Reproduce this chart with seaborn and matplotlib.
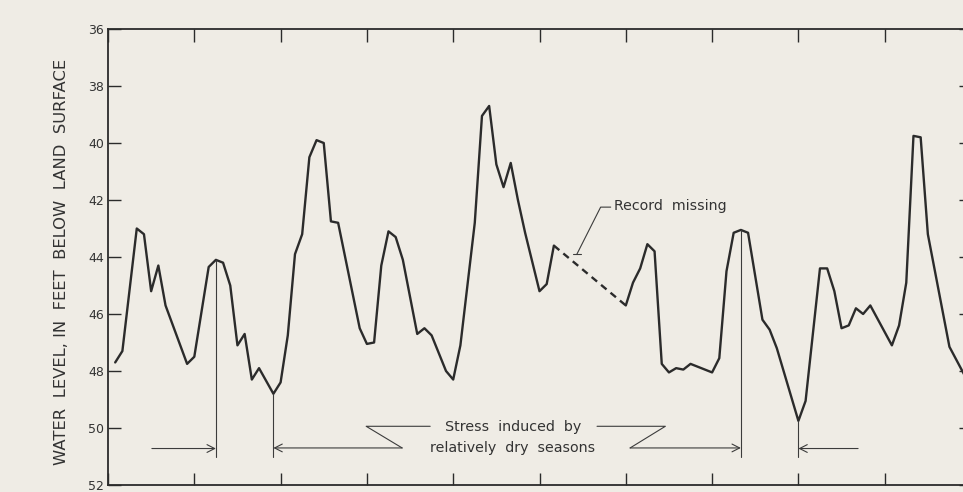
import matplotlib
matplotlib.use("Agg")
import matplotlib.pyplot as plt
import pandas as pd
import seaborn as sns

# monthly record, month 0 = left edge of chart
months = [1, 2, 4, 5, 6, 7, 8, 11, 12, 14, 15, 16, 17, 18, 19, 20, 21, 23, 24,
          25, 26, 27, 28, 29, 30, 31, 32, 35, 36, 37, 38, 39, 40, 41, 43, 44,
          45, 47, 48, 49, 51, 52, 53, 54, 55, 56, 57, 58, 60, 61, 62,
          72, 73, 74, 75, 76, 77, 78, 79, 80, 81, 84, 85, 86, 87, 88, 89,
          91, 92, 93, 96, 97, 99, 100, 101, 102, 103, 104, 105, 106, 109,
          110, 111, 112, 113, 114, 117, 119, 120]
levels = [47.7, 47.3, 43.0, 43.2, 45.2, 44.3, 45.7, 47.75, 47.5, 44.35, 44.1,
          44.2, 45.0, 47.1, 46.7, 48.3, 47.9, 48.8, 48.4,
          46.75, 43.9, 43.2, 40.5, 39.9, 40.0, 42.75, 42.8, 46.5, 47.05, 47.0,
          44.3, 43.1, 43.3, 44.1, 46.7, 46.5,
          46.75, 48.0, 48.3, 47.1, 42.8, 39.05, 38.7, 40.75, 41.55, 40.7, 42.0,
          43.15, 45.2, 44.95, 43.6,
          45.7, 44.9, 44.4, 43.55, 43.8, 47.75, 48.05, 47.9, 47.95, 47.75,
          48.05, 47.55, 44.5, 43.15, 43.05, 43.15,
          46.2, 46.55, 47.2, 49.75, 49.05, 44.4, 44.4, 45.2, 46.5, 46.4, 45.8,
          46.0, 45.7, 47.1,
          46.4, 44.9, 39.75, 39.8, 43.2, 47.15, 48.1, 48.6]

gap_start, gap_end = 62, 72          # record missing between these months
stress_marks = [15, 23, 88, 96]      # months marked with vertical lines
y_ticks = [36, 38, 40, 42, 44, 46, 48, 50, 52]

INK = "#2b2b2b"
THIN = "#3c3c3c"
PAPER = "#efece5"

df = pd.DataFrame({"month": months, "level": levels})
before = df[df["month"] <= gap_start]
after = df[df["month"] >= gap_end]
gap = df[df["month"].isin([gap_start, gap_end])]

sns.set_style("ticks")
plt.rcParams["font.family"] = ["DejaVu Sans"]

fig = plt.figure(figsize=(9.63, 4.92), dpi=100, facecolor=PAPER)
ax = fig.add_axes([108 / 963, 7 / 492, 863 / 963, 456 / 492])
ax.set_facecolor(PAPER)

sns.lineplot(data=before, x="month", y="level", color=INK, lw=1.7, ax=ax)
sns.lineplot(data=after, x="month", y="level", color=INK, lw=1.7, ax=ax)
sns.lineplot(data=gap, x="month", y="level", color=INK, lw=1.7, ax=ax,
             linestyle=(0, (3, 2.2)))

ax.set_xlim(0, 120)
ax.set_ylim(52, 36)
ax.set_xticks(range(0, 121, 12))
ax.set_xticklabels([])
ax.set_yticks(y_ticks)
ax.set_yticklabels([str(t) for t in y_ticks], fontsize=9, color="#333333")
ax.tick_params(axis="both", direction="in", length=9, width=1.0,
               color=INK, top=True, right=True, pad=3)
for side in ax.spines.values():
    side.set_color(INK)
    side.set_linewidth(1.3)
ax.set_xlabel("")
ax.set_ylabel("WATER  LEVEL, IN  FEET  BELOW  LAND  SURFACE",
              fontsize=11.8, color="#333333")
ax.yaxis.set_label_coords(-0.045, 0.49)

# vertical markers of dry-season stress
lookup = dict(zip(months, levels))
for m in stress_marks:
    ax.plot([m, m], [lookup[m], 51.0], color=THIN, lw=0.8)

arrow = dict(arrowstyle="->,head_length=0.55,head_width=0.28", color=THIN,
             lw=0.8, shrinkA=0, shrinkB=0)
ax.annotate("", xy=(15, 50.72), xytext=(6.1, 50.72), arrowprops=arrow)
ax.annotate("", xy=(23, 50.7), xytext=(40.9, 50.7), arrowprops=arrow)
ax.annotate("", xy=(88, 50.7), xytext=(72.6, 50.7), arrowprops=arrow)
ax.annotate("", xy=(96, 50.72), xytext=(104.3, 50.72), arrowprops=arrow)

# zig-zag connectors around the caption
ax.plot([40.9, 35.9, 44.8], [50.7, 49.94, 49.94], color=THIN, lw=0.8)
ax.plot([68.0, 77.5, 72.6], [49.94, 49.94, 50.7], color=THIN, lw=0.8)
ax.text(56.3, 50.33, "Stress  induced  by\nrelatively  dry  seasons",
        ha="center", va="center", fontsize=10.3, color="#333333",
        linespacing=1.6)

# record missing leader
ax.plot([65.2, 68.5, 69.9], [43.9, 42.25, 42.25], color=THIN, lw=0.8)
ax.plot([64.6, 65.8], [43.9, 43.9], color=THIN, lw=0.8)
ax.text(70.3, 42.22, "Record  missing", ha="left", va="center",
        fontsize=10.2, color="#333333")

fig.savefig("out.png", dpi=100, facecolor=PAPER)
